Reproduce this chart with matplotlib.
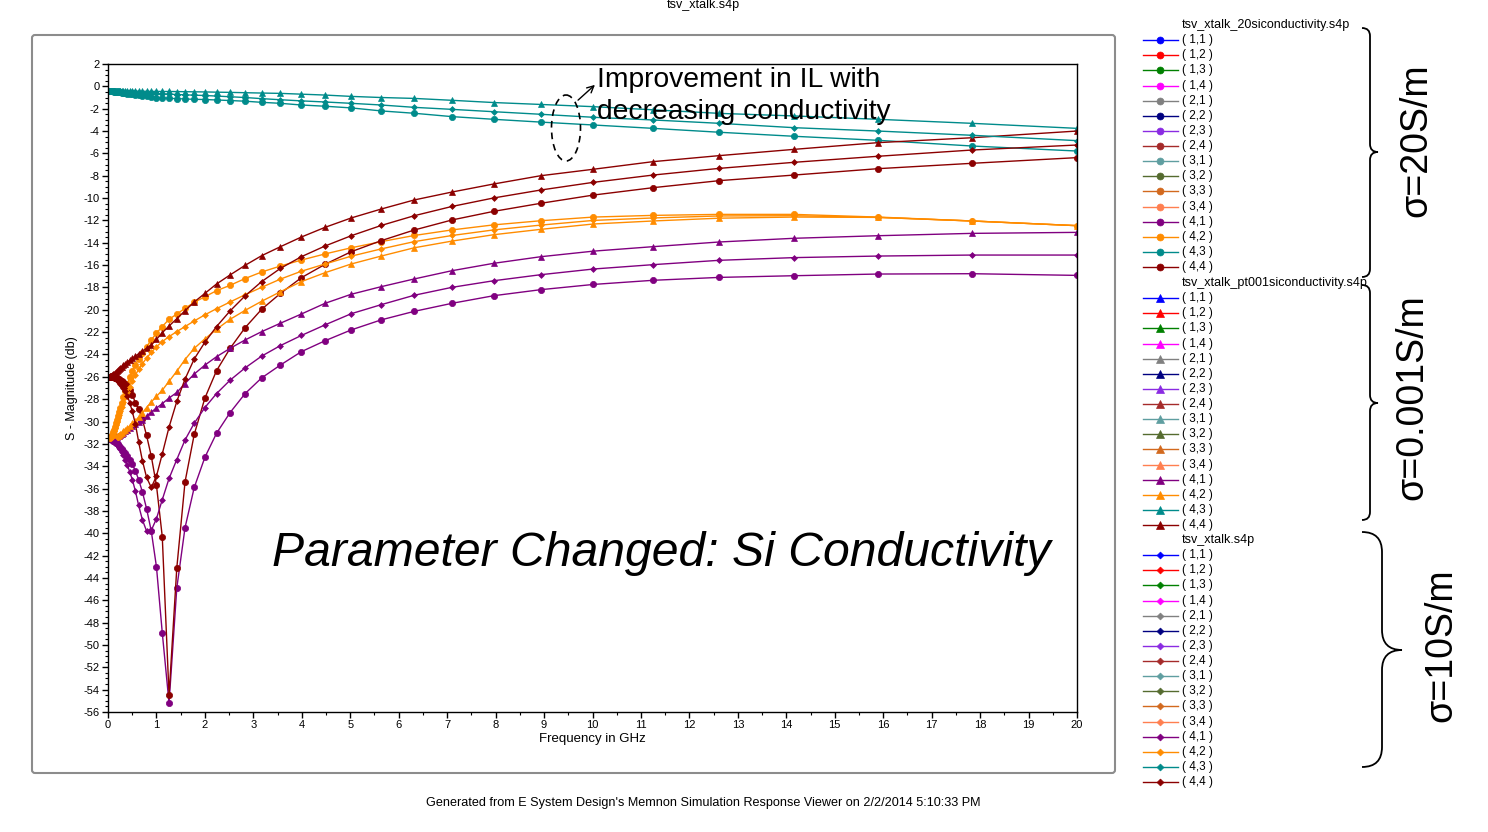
import matplotlib
matplotlib.use('Agg')
import matplotlib.pyplot as plt
from matplotlib.lines import Line2D
from matplotlib.patches import Ellipse, FancyBboxPatch, PathPatch, FancyArrowPatch
from matplotlib.path import Path
from matplotlib.ticker import MultipleLocator

plt.rcParams['font.family'] = ['Liberation Sans', 'DejaVu Sans']
plt.rcParams['axes.unicode_minus'] = False

# sweep points (GHz), 20 per decade
freq_ghz = [0.0252, 0.0283, 0.0317, 0.0356, 0.0399, 0.0448, 0.0502, 0.0564, 0.0632, 0.0710, 0.0796, 0.0893,
            0.100, 0.112, 0.126, 0.142, 0.159, 0.178, 0.200, 0.224, 0.252, 0.283, 0.317, 0.356, 0.399, 0.448,
            0.502, 0.564, 0.632, 0.710, 0.796, 0.893,
            1.00, 1.12, 1.26, 1.42, 1.59, 1.78, 2.00, 2.24, 2.52, 2.83, 3.17, 3.56, 3.99, 4.48, 5.02, 5.64,
            6.32, 7.10, 7.96, 8.93,
            10.02, 11.25, 12.62, 14.16, 15.89, 17.83, 20.00]

# ---- tsv_xtalk_20siconductivity.s4p (dB)
s41_20 = [-31.50, -31.50, -31.51, -31.52, -31.53, -31.54, -31.55, -31.56, -31.57, -31.58, -31.60, -31.62,
          -31.65, -31.70, -31.75, -31.80, -31.88, -31.96, -32.05, -32.15, -32.28, -32.42, -32.60, -32.80, -33.05, -33.40,
          -33.80, -34.40, -35.20, -36.30, -37.80, -39.80,
          -43.00, -48.90, -55.20, -44.90, -39.50, -35.90, -33.20, -31.05, -29.20, -27.50, -26.10, -24.94, -23.75, -22.77,
          -21.80, -20.90, -20.14, -19.42, -18.74, -18.20,
          -17.73, -17.36, -17.10, -16.95, -16.80, -16.77, -16.92]
s42_20 = [-31.50, -31.50, -31.50, -31.50, -31.49, -31.48, -31.46, -31.44, -31.41, -31.37, -31.32, -31.24,
          -31.12, -30.95, -30.72, -30.45, -30.15, -29.85, -29.50, -29.15, -28.75, -28.30, -27.80, -27.25, -26.65, -26.05,
          -25.45, -24.90, -24.40, -23.90, -23.30, -22.70,
          -22.10, -21.50, -20.85, -20.38, -19.87, -19.33, -18.83, -18.29, -17.81, -17.20, -16.62, -16.08, -15.55, -15.00,
          -14.45, -13.90, -13.35, -12.85, -12.40, -12.03,
          -11.70, -11.55, -11.46, -11.46, -11.70, -12.05, -12.47]
s43_20 = [-0.43, -0.43, -0.43, -0.43, -0.43, -0.43, -0.43, -0.43, -0.43, -0.44, -0.44, -0.44,
          -0.45, -0.46, -0.47, -0.48, -0.49, -0.50, -0.51, -0.53, -0.55, -0.57, -0.59, -0.62, -0.65, -0.68,
          -0.72, -0.76, -0.80, -0.85, -0.90, -0.95,
          -1.00, -1.03, -1.07, -1.10, -1.13, -1.16, -1.18, -1.22, -1.27, -1.33, -1.43, -1.52, -1.67, -1.78,
          -1.93, -2.20, -2.41, -2.71, -2.95, -3.20,
          -3.46, -3.76, -4.11, -4.47, -4.83, -5.34, -5.79]
s44_20 = [-26.00, -26.00, -26.00, -26.00, -26.00, -26.00, -26.01, -26.01, -26.01, -26.02, -26.02, -26.02,
          -26.03, -26.04, -26.05, -26.07, -26.09, -26.12, -26.16, -26.21, -26.28, -26.37, -26.48, -26.62, -26.80, -27.15,
          -27.60, -28.30, -28.90, -29.80, -31.25, -33.10,
          -35.70, -40.30, -54.50, -43.10, -35.40, -31.15, -27.90, -25.45, -23.45, -21.60, -19.96, -18.53, -17.13, -15.93,
          -14.80, -13.81, -12.86, -11.96, -11.19, -10.47,
          -9.73, -9.07, -8.44, -7.94, -7.37, -6.89, -6.38]

# ---- tsv_xtalk_pt001siconductivity.s4p (dB)
s41_pt001 = [-31.50, -31.50, -31.50, -31.50, -31.50, -31.50, -31.50, -31.50, -31.50, -31.50, -31.50, -31.50,
             -31.50, -31.49, -31.47, -31.45, -31.42, -31.38, -31.33, -31.27, -31.20, -31.10, -31.00, -30.88, -30.75, -30.60,
             -30.43, -30.25, -30.05, -29.82, -29.52, -29.15,
             -28.80, -28.40, -27.90, -27.40, -26.60, -25.75, -24.95, -24.20, -23.45, -22.70, -21.96, -21.20, -20.38, -19.42,
             -18.61, -17.93, -17.24, -16.50, -15.84, -15.25,
             -14.75, -14.35, -13.93, -13.60, -13.37, -13.16, -13.07]
s42_pt001 = [-31.50, -31.50, -31.50, -31.50, -31.50, -31.50, -31.50, -31.50, -31.50, -31.50, -31.50, -31.49,
             -31.48, -31.47, -31.45, -31.42, -31.38, -31.33, -31.27, -31.20, -31.11, -31.01, -30.89, -30.75, -30.58, -30.39,
             -30.17, -29.92, -29.62, -29.22, -28.75, -28.25,
             -27.75, -27.20, -26.40, -25.50, -24.45, -23.45, -22.60, -21.75, -20.85, -20.05, -19.24, -18.38, -17.48, -16.68,
             -15.90, -15.19, -14.45, -13.85, -13.28, -12.80,
             -12.32, -12.05, -11.80, -11.70, -11.73, -12.05, -12.47]
s43_pt001 = [-0.40, -0.40, -0.40, -0.40, -0.40, -0.40, -0.40, -0.40, -0.40, -0.40, -0.40, -0.40,
             -0.40, -0.40, -0.40, -0.40, -0.40, -0.41, -0.41, -0.41, -0.41, -0.41, -0.42, -0.42, -0.42, -0.42,
             -0.43, -0.43, -0.43, -0.44, -0.44, -0.45,
             -0.45, -0.46, -0.46, -0.47, -0.48, -0.49, -0.50, -0.52, -0.54, -0.57, -0.60, -0.63, -0.70, -0.78,
             -0.90, -1.00, -1.08, -1.25, -1.45, -1.62,
             -1.82, -2.10, -2.42, -2.65, -2.95, -3.31, -3.76]
s44_pt001 = [-26.00, -26.00, -26.00, -25.99, -25.98, -25.97, -25.96, -25.95, -25.93, -25.91, -25.89, -25.86,
             -25.82, -25.78, -25.73, -25.67, -25.60, -25.52, -25.43, -25.33, -25.22, -25.10, -24.97, -24.83, -24.68, -24.52,
             -24.35, -24.15, -23.93, -23.70, -23.45, -23.15,
             -22.65, -22.05, -21.45, -20.80, -20.08, -19.30, -18.53, -17.69, -16.88, -16.02, -15.16, -14.35, -13.49, -12.62,
             -11.78, -10.98, -10.17, -9.46, -8.74, -8.00,
             -7.42, -6.74, -6.20, -5.64, -5.04, -4.60, -4.00]

# ---- tsv_xtalk.s4p (10 S/m, dB)
s41_10 = [-31.50, -31.50, -31.51, -31.52, -31.53, -31.54, -31.55, -31.56, -31.58, -31.60, -31.62, -31.64,
          -31.67, -31.72, -31.78, -31.85, -31.93, -32.02, -32.13, -32.27, -32.45, -32.70, -33.00, -33.40, -33.90, -34.50,
          -35.20, -36.20, -37.50, -38.80, -39.80, -39.75,
          -38.70, -37.00, -35.10, -33.40, -31.65, -30.15, -28.75, -27.50, -26.30, -25.20, -24.15, -23.20, -22.30, -21.35,
          -20.35, -19.54, -18.70, -17.99, -17.40, -16.86,
          -16.35, -15.96, -15.57, -15.33, -15.19, -15.10, -15.10]
s42_10 = [-31.50, -31.50, -31.50, -31.50, -31.49, -31.48, -31.47, -31.45, -31.43, -31.40, -31.36, -31.30,
          -31.20, -31.05, -30.85, -30.60, -30.32, -30.02, -29.70, -29.38, -29.05, -28.68, -28.28, -27.85, -27.38, -26.88,
          -26.37, -25.85, -25.33, -24.82, -24.32, -23.82,
          -23.30, -22.85, -22.40, -21.95, -21.50, -21.00, -20.45, -19.90, -19.30, -18.65, -17.99, -17.25, -16.55, -15.90,
          -15.20, -14.55, -13.90, -13.35, -12.85, -12.42,
          -12.00, -11.78, -11.60, -11.58, -11.73, -12.05, -12.47]
s43_10 = [-0.42, -0.42, -0.42, -0.42, -0.42, -0.42, -0.42, -0.42, -0.42, -0.42, -0.42, -0.42,
          -0.42, -0.42, -0.43, -0.43, -0.44, -0.44, -0.45, -0.45, -0.46, -0.47, -0.48, -0.49, -0.50, -0.51,
          -0.52, -0.54, -0.56, -0.58, -0.60, -0.62,
          -0.64, -0.67, -0.70, -0.73, -0.76, -0.79, -0.82, -0.87, -0.93, -1.00, -1.10, -1.20, -1.30, -1.40,
          -1.52, -1.67, -1.88, -2.06, -2.27, -2.50,
          -2.77, -3.01, -3.31, -3.70, -4.00, -4.38, -4.86]
s44_10 = [-26.00, -26.00, -26.00, -26.00, -26.00, -26.01, -26.01, -26.01, -26.02, -26.02, -26.03, -26.03,
          -26.04, -26.06, -26.09, -26.13, -26.18, -26.25, -26.34, -26.45, -26.60, -26.78, -27.00, -27.30, -27.70, -28.30,
          -29.10, -30.20, -31.80, -33.50, -35.00, -35.90,
          -34.90, -32.90, -30.50, -28.20, -26.20, -24.40, -22.90, -21.50, -20.10, -18.75, -17.48, -16.29, -15.25, -14.29,
          -13.37, -12.45, -11.58, -10.75, -9.99, -9.28,
          -8.59, -7.94, -7.34, -6.80, -6.26, -5.70, -5.25]

files = ['tsv_xtalk_20siconductivity.s4p', 'tsv_xtalk_pt001siconductivity.s4p', 'tsv_xtalk.s4p']
file_markers = ['o', '^', 'D']
marker_sizes = [4.5, 5, 3]
sigma_labels = ['σ=20S/m', 'σ=0.001S/m', 'σ=10S/m']

ports = ['(1,1)', '(1,2)', '(1,3)', '(1,4)', '(2,1)', '(2,2)', '(2,3)', '(2,4)',
         '(3,1)', '(3,2)', '(3,3)', '(3,4)', '(4,1)', '(4,2)', '(4,3)', '(4,4)']
port_colors = ['#0000FF', '#FF0000', '#008000', '#FF00FF', '#808080', '#000080', '#8A2BE2', '#A52A2A',
               '#5F9EA0', '#556B2F', '#D2691E', '#FF7F50', '#800080', '#FF8C00', '#008B8B', '#8B0000']

curves = [
    (s41_20, 12, 0), (s42_20, 13, 0), (s43_20, 14, 0), (s44_20, 15, 0),
    (s41_pt001, 12, 1), (s42_pt001, 13, 1), (s43_pt001, 14, 1), (s44_pt001, 15, 1),
    (s41_10, 12, 2), (s42_10, 13, 2), (s43_10, 14, 2), (s44_10, 15, 2),
]

W, H = 1488, 832
fig = plt.figure(figsize=(W / 100, H / 100), dpi=100)

ax = fig.add_axes([108 / W, 1 - 712 / H, 969 / W, 648 / H], zorder=2)
for vals, ci, fi in curves:
    ax.plot(freq_ghz, vals, color=port_colors[ci], lw=1.0, marker=file_markers[fi],
            markersize=marker_sizes[fi], markeredgewidth=0.5)

ax.set_xlim(0, 20)
ax.set_ylim(-56, 2)
ax.xaxis.set_major_locator(MultipleLocator(1))
ax.xaxis.set_minor_locator(MultipleLocator(0.5))
ax.yaxis.set_major_locator(MultipleLocator(2))
ax.yaxis.set_minor_locator(MultipleLocator(0.5))
ax.tick_params(which='major', direction='out', length=4, width=1, labelsize=8, pad=2)
ax.tick_params(which='minor', direction='out', length=2.5, width=0.8)
for sp in ax.spines.values():
    sp.set_linewidth(1.0)
ax.set_xlabel('Frequency in GHz', fontsize=9.5, labelpad=2)
ax.set_ylabel('S - Magnitude (db)', fontsize=9, labelpad=4)

# overlay in pixel coordinates for frame, notes, legend and braces
ov = fig.add_axes([0, 0, 1, 1], zorder=3)
ov.set_xlim(0, W)
ov.set_ylim(H, 0)
ov.axis('off')
ov.patch.set_alpha(0)

ov.add_patch(FancyBboxPatch((32, 35), 1083, 738, boxstyle='round,pad=0,rounding_size=3',
                            fill=False, ec='#8c8c8c', lw=1.5))
ov.text(703, 5, 'tsv_xtalk.s4p', fontsize=9, ha='center', va='center')
ov.text(703, 803, "Generated from E System Design's Memnon Simulation Response Viewer on 2/2/2014 5:10:33 PM",
        fontsize=9.1, ha='center', va='center')

ov.text(661, 553, 'Parameter Changed: Si Conductivity', fontsize=34.7, style='italic',
        ha='center', va='center')
ov.text(597, 80, 'Improvement in IL with', fontsize=20.3, va='center')
ov.text(597, 112, 'decreasing conductivity', fontsize=20.3, va='center')
ov.add_patch(Ellipse((566, 128), 29, 66, fill=False, ls=(0, (4, 3)), lw=1.2, ec='black'))
ov.add_patch(FancyArrowPatch((576, 102), (597, 83), arrowstyle='->', mutation_scale=12,
                             lw=1.0, color='black'))


def brace(a, x0, y0, y1, ytip, w):
    xm = x0 + w * 0.5
    r = w * 0.5
    verts = [(x0, y0), (xm, y0), (xm, y0 + r), (xm, ytip - r), (xm, ytip), (x0 + w, ytip),
             (xm, ytip), (xm, ytip + r), (xm, y1 - r), (xm, y1), (x0, y1)]
    codes = [Path.MOVETO, Path.CURVE3, Path.CURVE3, Path.LINETO, Path.CURVE3, Path.CURVE3,
             Path.CURVE3, Path.CURVE3, Path.LINETO, Path.CURVE3, Path.CURVE3]
    a.add_patch(PathPatch(Path(verts, codes), fill=False, lw=1.3, ec='black'))


# legend blocks
title_y = [25, 283, 540]
step = 15.13
brace_spec = [(28, 277, 152, 16), (285, 520, 403, 16), (532, 767, 650, 40)]
sigma_pos = [(1416, 140), (1412, 397), (1441, 645)]
for fi in range(3):
    ov.text(1182, title_y[fi], files[fi], fontsize=9, va='center')
    for k in range(16):
        y = title_y[fi] + step * (k + 1)
        ov.add_line(Line2D([1143, 1178], [y, y], color=port_colors[k], lw=1.0))
        ov.add_line(Line2D([1160], [y], color=port_colors[k], marker=file_markers[fi],
                           markersize=marker_sizes[fi] + 0.5, markeredgewidth=0.5))
        ov.text(1182, y, '( ' + ports[k][1:-1] + ' )', fontsize=8.5, va='center')
    y0, y1, yt, bw = brace_spec[fi]
    brace(ov, 1362, y0, y1, yt, bw)
    ov.text(sigma_pos[fi][0], sigma_pos[fi][1], sigma_labels[fi], fontsize=27, rotation=90,
            ha='center', va='center')

fig.savefig('out.png', dpi=100)
